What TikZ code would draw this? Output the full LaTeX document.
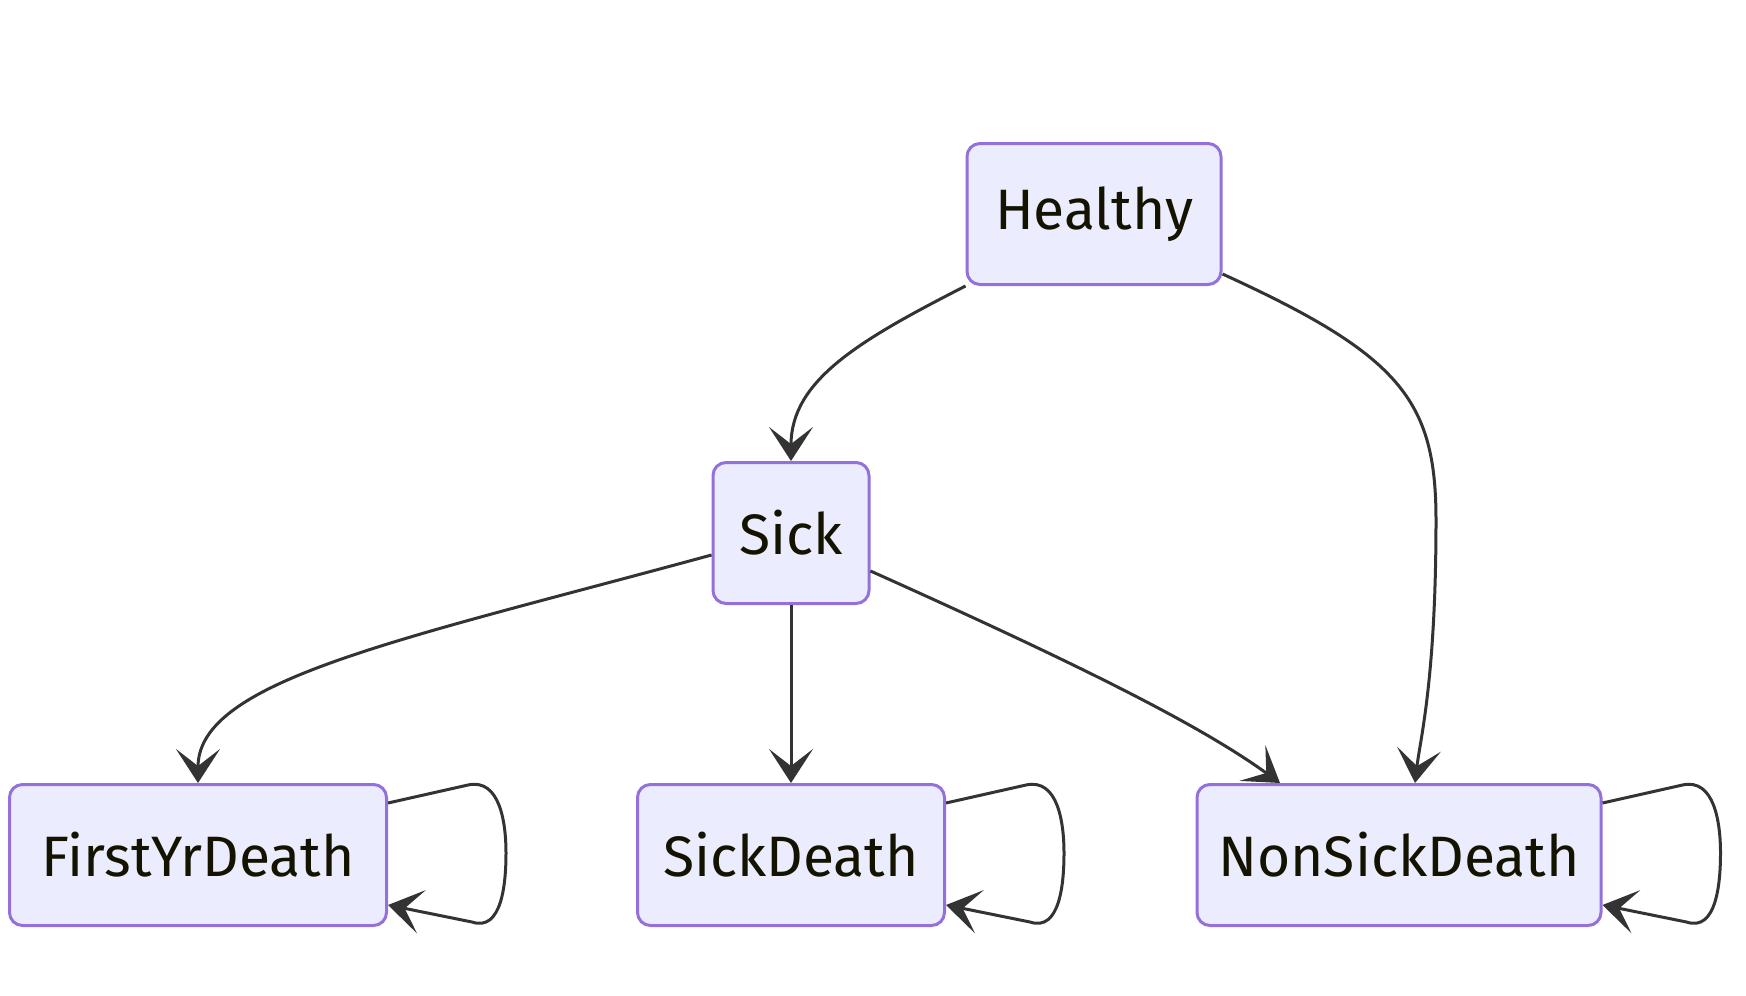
\documentclass[tikz,border=0pt]{standalone}
\usepackage{fontspec}
\setmainfont{Fira Sans}
\usetikzlibrary{arrows.meta}

\definecolor{StateFill}{RGB}{236,236,255}
\definecolor{StateBorder}{RGB}{147,112,219}
\definecolor{EdgeColor}{RGB}{51,51,51}
\definecolor{TextColor}{RGB}{19,19,0}

\tikzset{
	state/.style={draw=StateBorder, fill=StateFill, line width=3pt, rounded corners=13pt,
		minimum height=141pt, inner sep=0pt, text=TextColor, font=\fontsize{57}{70}\selectfont},
	edge/.style={draw=EdgeColor, line width=3pt,
		-{Stealth[length=34pt, width=44pt, inset=17pt]}}
}

\begin{document}
\begin{tikzpicture}[x=1pt, y=-1pt]

	\useasboundingbox (0,0) rectangle (1746,996);

	% States

	\node [state, minimum width=254pt] (Healthy) at (1094,214) {Healthy};
	\node [state, minimum width=156pt] (Sick) at (791,533) {Sick};
	\node [state, minimum width=377pt] (FirstYrDeath) at (198,855) {FirstYrDeath};
	\node [state, minimum width=307pt] (SickDeath) at (791,855) {SickDeath};
	\node [state, minimum width=404pt] (NonSickDeath) at (1399,855) {NonSickDeath};

	% Transitions

	\draw [edge] (Healthy.south west) .. controls (860,340) and (791,380) .. (Sick.north);
	\draw [edge] ([yshift=-60pt]Healthy.east) .. controls (1400,355) and (1436,400) .. (1436,520)
		.. controls (1436,680) and (1420,740) .. ([xshift=16pt]NonSickDeath.north);
	\draw [edge] ([yshift=-22pt]Sick.west) .. controls (400,640) and (198,680) .. (FirstYrDeath.north);
	\draw [edge] (Sick.south) -- (SickDeath.north);
	\draw [edge] ([yshift=-38pt]Sick.east) .. controls (1080,665) and (1200,725) .. ([xshift=-119pt]NonSickDeath.north);

	% Self loops

	\foreach \s in {FirstYrDeath,SickDeath,NonSickDeath}
		\draw [edge] ([yshift=-20pt]\s.north east) -- ++(80,-18)
			.. controls +(32,-7) and +(0,-30) .. ++(38,68)
			.. controls +(0,30) and +(30,10) .. ++(-34,69)
			-- ([yshift=22pt]\s.south east);

\end{tikzpicture}
\end{document}
